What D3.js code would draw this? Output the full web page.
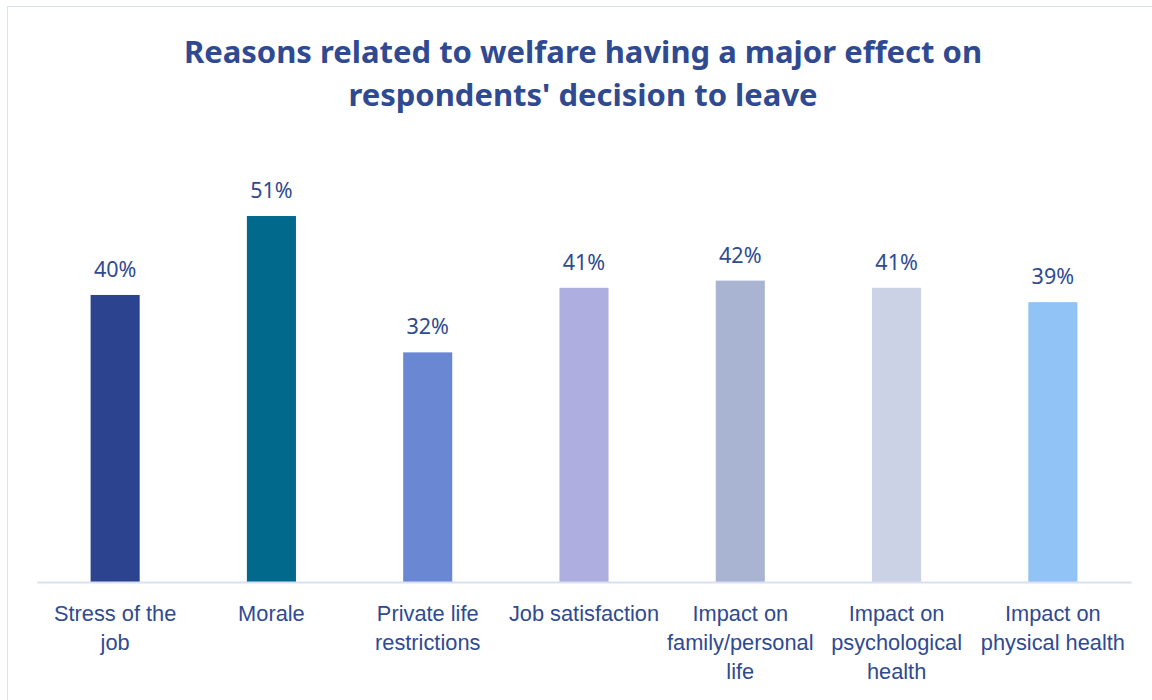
<!DOCTYPE html>
<html>
<head>
<meta charset="utf-8">
<script src="https://cdn.jsdelivr.net/npm/d3@7"></script>
<style>
  body { margin: 0; background: #fff; }
  svg { display: block; font-family: "Noto Sans", "Open Sans", sans-serif; }
</style>
</head>
<body>
<svg id="chart" width="1152" height="700"></svg>
<script>
// data
const titleLines = ["Reasons related to welfare having a major effect on",
                    "respondents' decision to leave"];
const categories = ["Stress of the job", "Morale", "Private life restrictions",
                    "Job satisfaction", "Impact on family/personal life",
                    "Impact on psychological health", "Impact on physical health"];
const tickLines = [["Stress of the", "job"], ["Morale"], ["Private life", "restrictions"],
                   ["Job satisfaction"], ["Impact on", "family/personal", "life"],
                   ["Impact on", "psychological", "health"], ["Impact on", "physical health"]];
const values = [0.40, 0.51, 0.32, 0.41, 0.42, 0.41, 0.39];
const barColors = ["#2c4490", "#00698c", "#6a87d4", "#aeaee0", "#a9b4d3", "#cbd2e6", "#91c3f7"];

const textColor = "#2f4a91";
const svg = d3.select("#chart");

// chart frame
svg.append("rect")
    .attr("x", 7.5).attr("y", 6.5)
    .attr("width", 1160).attr("height", 710)
    .attr("fill", "#fff")
    .attr("stroke", "#d9e2f3")
    .attr("stroke-width", 1);

// title
svg.append("text")
    .attr("text-anchor", "middle")
    .attr("fill", textColor)
    .style("font-weight", "bold")
    .style("font-size", "31px")
    .selectAll("tspan")
    .data(titleLines)
    .join("tspan")
    .attr("x", 583)
    .attr("y", (d, i) => 63 + i * 43)
    .text(d => d);

const x = d3.scaleBand()
    .domain(categories)
    .range([37, 1131])
    .padding(0);

const y = d3.scaleLinear()
    .domain([0, 0.6])
    .range([582, 582 - 0.6 * 717.6]);

const barW = x.bandwidth() * 0.314;

svg.selectAll("rect.bar")
    .data(values)
    .join("rect")
    .attr("class", "bar")
    .attr("x", (d, i) => x(categories[i]) + (x.bandwidth() - barW) / 2)
    .attr("y", d => y(d))
    .attr("width", barW)
    .attr("height", d => y(0) - y(d))
    .attr("fill", (d, i) => barColors[i]);

// value labels
svg.selectAll("text.val")
    .data(values)
    .join("text")
    .attr("class", "val")
    .attr("text-anchor", "middle")
    .attr("fill", textColor)
    .style("font-size", "21.5px")
    .attr("x", (d, i) => x(categories[i]) + x.bandwidth() / 2)
    .attr("y", d => y(d) - 18)
    .text(d => d3.format(".0%")(d));

// category axis
const xAxis = svg.append("g")
    .attr("transform", `translate(0,${y(0)})`)
    .call(d3.axisBottom(x).tickSize(0).tickFormat(""));
xAxis.select(".domain")
    .attr("stroke", "#d9e0f1")
    .attr("stroke-width", 2);

xAxis.selectAll(".tick")
    .append("text")
    .attr("text-anchor", "middle")
    .attr("fill", textColor)
    .style("font-size", "21.8px")
    .selectAll("tspan")
    .data((d, i) => tickLines[i])
    .join("tspan")
    .attr("x", 0)
    .attr("y", (d, i) => 39 + i * 29)
    .text(d => d);
</script>
</body>
</html>
